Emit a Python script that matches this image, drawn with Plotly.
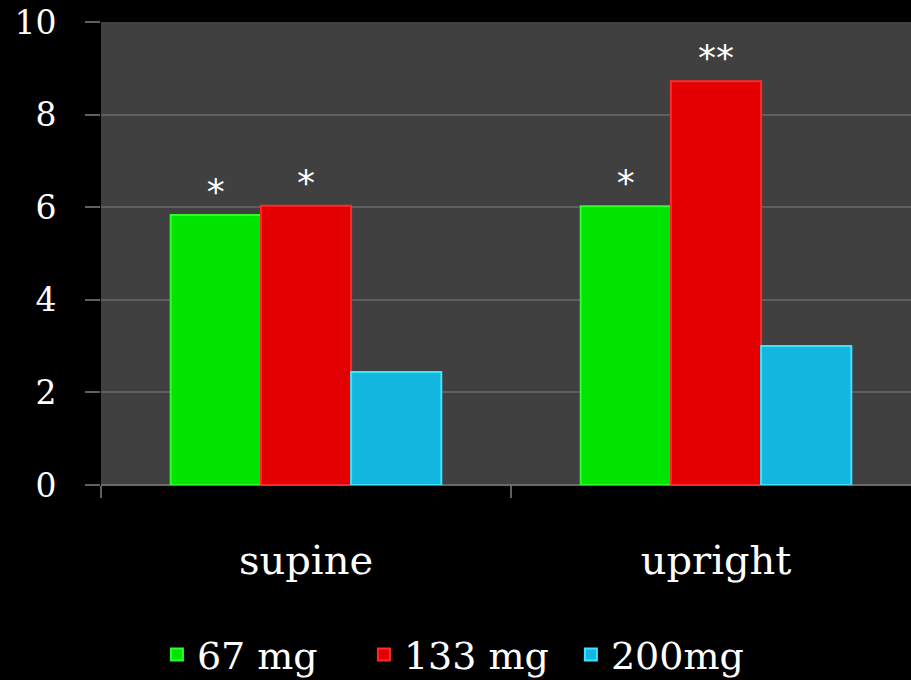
import plotly.graph_objects as go

categories = ["supine", "upright"]
series_names = ["67 mg", "133 mg", "200mg"]
v67 = [5.83, 6.02]
v133 = [6.03, 8.72]
v200 = [2.44, 3.0]
marks67 = ["*", "*"]
marks133 = ["*", "**"]
marks200 = ["", ""]
y_ticks = [0, 2, 4, 6, 8, 10]

fills = ["#00e400", "#e40000", "#12b6df"]
edges = ["#2cff2c", "#ff2a2a", "#3ae4ff"]

FONT = "DejaVu Serif"

fig = go.Figure()
for name, vals, marks, fc, ec in zip(series_names, [v67, v133, v200],
                                     [marks67, marks133, marks200], fills, edges):
    fig.add_trace(go.Bar(
        name=name, x=categories, y=vals, text=marks,
        textposition="outside", cliponaxis=False,
        textfont=dict(color="white", size=36, family="DejaVu Sans"),
        marker=dict(color=fc, line=dict(color=ec, width=2)),
    ))

fig.update_layout(
    width=911, height=680,
    margin=dict(l=101, r=0, t=22, b=195, autoexpand=False),
    paper_bgcolor="black", plot_bgcolor="#404040",
    barmode="group", bargap=0.34, bargroupgap=0,
    font=dict(family=FONT, color="white"),
    showlegend=True,
    legend=dict(orientation="h", x=0.069, xanchor="left", y=-0.367, yanchor="middle",
                font=dict(size=38, color="white", family=FONT),
                entrywidth=162, entrywidthmode="pixels",
                bgcolor="rgba(0,0,0,0)", itemwidth=30, traceorder="normal"),
)
fig.update_xaxes(
    range=[-0.5, 1.4756], tickson="boundaries", ticks="outside", ticklen=12,
    tickcolor="#606060", tickwidth=2, showgrid=False, showline=False,
    tickfont=dict(size=40, family=FONT, color="white"), ticklabelstandoff=48,
    fixedrange=True, automargin=False,
)
fig.update_yaxes(
    range=[0, 10], tickvals=y_ticks, ticks="outside", ticklen=15, tickcolor="#606060",
    tickwidth=2, showgrid=True, gridcolor="#5e5e5e", gridwidth=2, zeroline=True,
    zerolinecolor="#6a6a6a", zerolinewidth=2,
    tickfont=dict(size=33, family=FONT, color="white"), ticklabelstandoff=22,
    fixedrange=True, automargin=False,
)

fig.write_html("out.html", config={"displayModeBar": False},
               post_script="document.body.style.margin='0';document.body.style.overflow='hidden';")
